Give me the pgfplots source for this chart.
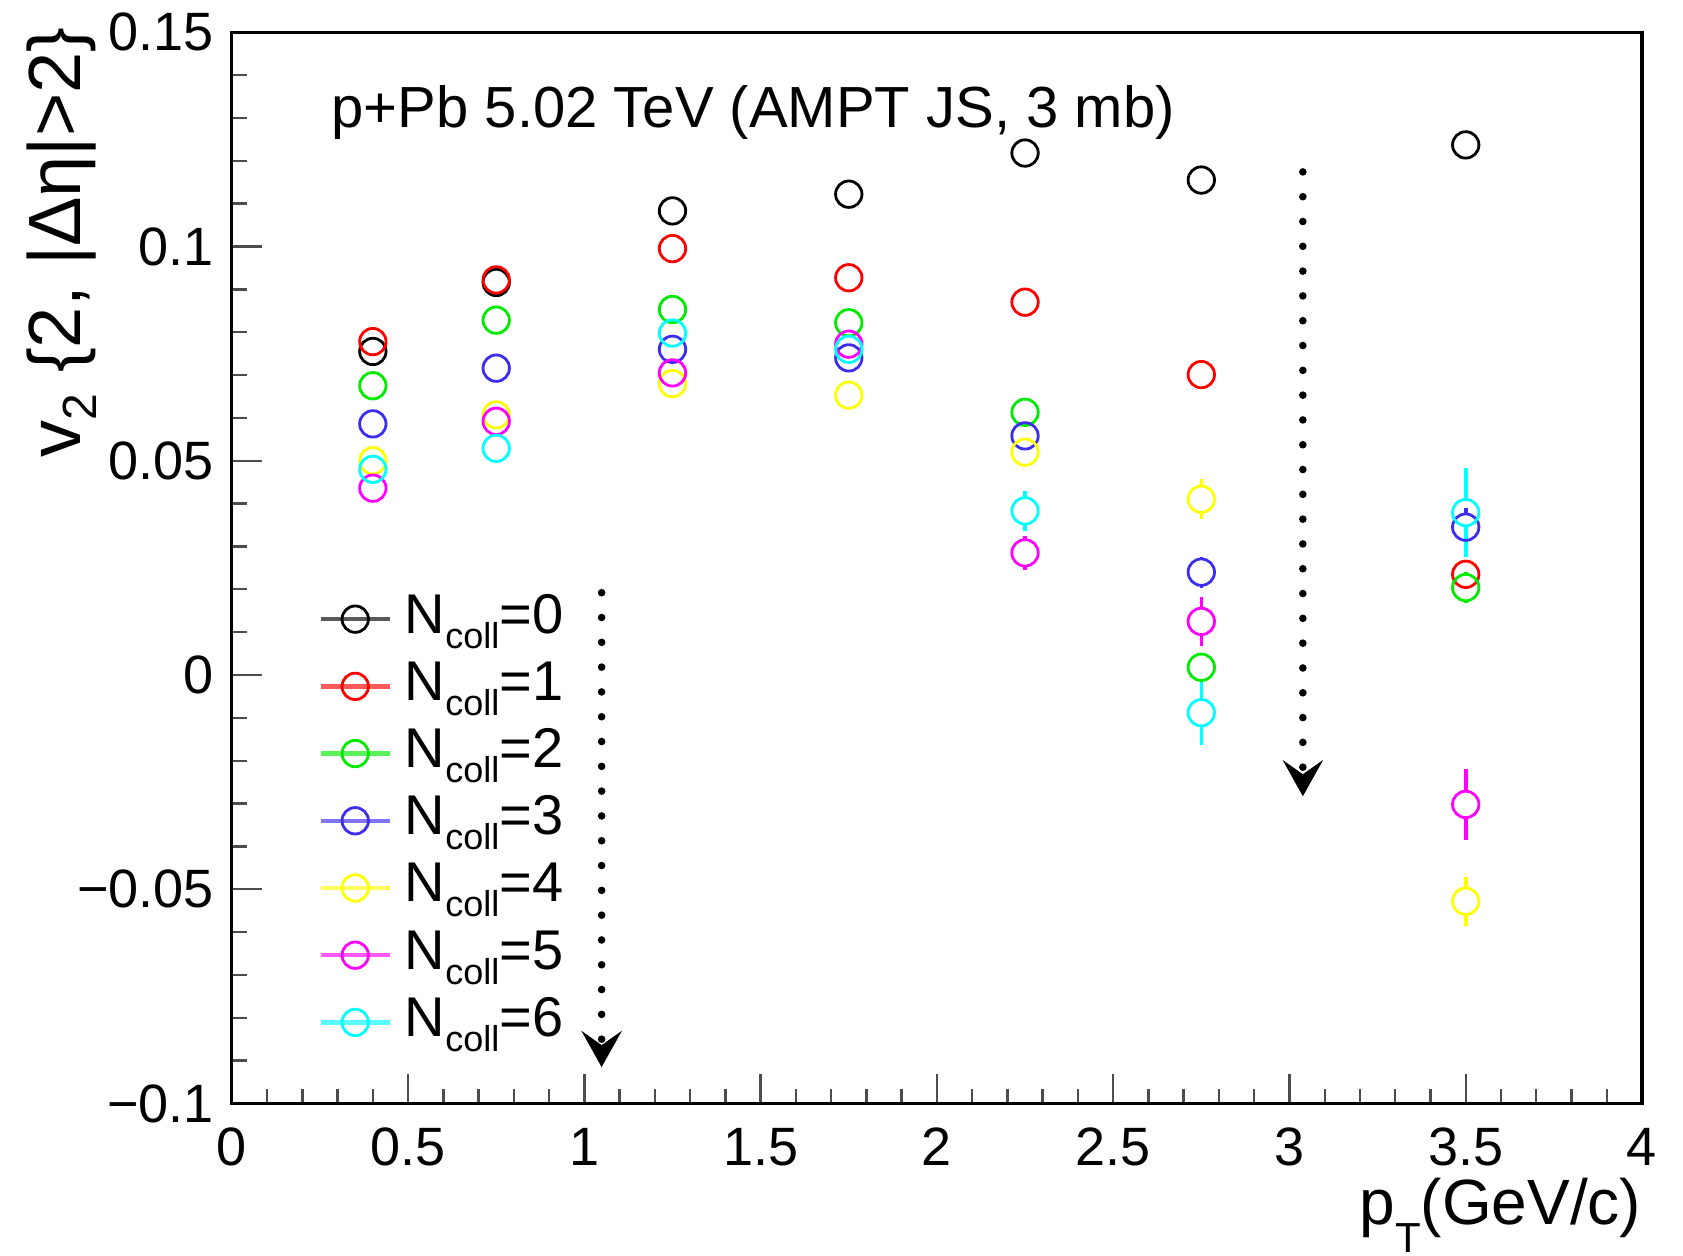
\documentclass[border=0pt]{standalone}
\usepackage{fontspec}
\setmainfont{Liberation Sans}
\usepackage{pgfplots}
\pgfplotsset{compat=1.18}
\usepackage{pgfplotstable}
\usetikzlibrary{arrows.meta}
\newcommand\sub[1]{\raisebox{-3.75bp}{\fontsize{9bp}{9bp}\selectfont #1}}
\definecolor{rblue}{RGB}{60,45,240}
\definecolor{rgreen}{RGB}{0,235,0}
\definecolor{ryellow}{RGB}{255,255,0}
\definecolor{rmag}{RGB}{255,0,255}
\definecolor{rcyan}{RGB}{0,255,255}

% x = pT, y = v2, e = statistical error (0 = hidden inside marker)
\pgfplotstableread{
x y e
0.40 0.0755 0
0.75 0.0916 0
1.25 0.1083 0
1.75 0.1122 0
2.25 0.1218 0
2.75 0.1155 0
3.50 0.1237 0
}\nzero
\pgfplotstableread{
x y e
0.40 0.0778 0
0.75 0.0922 0
1.25 0.0995 0
1.75 0.0927 0
2.25 0.0870 0
2.75 0.0701 0
3.50 0.0235 0
}\none
\pgfplotstableread{
x y e
0.40 0.0675 0
0.75 0.0828 0
1.25 0.0853 0
1.75 0.0822 0
2.25 0.0613 0
2.75 0.0018 0
3.50 0.0204 0.0036
}\ntwo
\pgfplotstableread{
x y e
0.40 0.0586 0
0.75 0.0716 0
1.25 0.0760 0
1.75 0.0740 0
2.25 0.0558 0
2.75 0.0240 0.0036
3.50 0.0345 0.0045
}\nthree
\pgfplotstableread{
x y e
0.40 0.0500 0
0.75 0.0607 0
1.25 0.0680 0
1.75 0.0653 0
2.25 0.0520 0
2.75 0.0410 0.0047
3.50 -0.0528 0.0057
}\nfour
\pgfplotstableread{
x y e
0.40 0.0436 0
0.75 0.0592 0
1.25 0.0705 0
1.75 0.0772 0
2.25 0.0285 0.0040
2.75 0.0125 0.0057
3.50 -0.0302 0.0083
}\nfive
\pgfplotstableread{
x y e
0.40 0.0480 0
0.75 0.0529 0
1.25 0.0798 0
1.75 0.0760 0
2.25 0.0383 0.0047
2.75 -0.0088 0.0075
3.50 0.0379 0.0103
}\nsix

\pgfplotsset{
  ser/.style={only marks, mark=o, mark size=3.3bp, color=#1,
    mark options={line width=0.7bp}},
  errs/.style={forget plot, draw=none, mark=none,
    error bars/y dir=both, error bars/y explicit,
    error bars/draw error bar/.code 2 args={\draw[draw=#1, line width=0.9bp, shorten <=3.3bp] ##1 -- ##2;}},
}

\begin{document}
\begin{tikzpicture}
\begin{axis}[
  at={(0,0)}, anchor=south west,
  scale only axis, width=352.5bp, height=267.8bp,
  xmin=0, xmax=4, ymin=-0.1, ymax=0.15,
  clip=false,
  axis line style={line width=0.8bp},
  xtick={0,0.5,1,1.5,2,2.5,3,3.5,4},
  xticklabels={0,0.5,1,1.5,2,2.5,3,3.5,4},
  ytick={-0.1,-0.05,0,0.05,0.1,0.15},
  yticklabels={−0.1,−0.05,0,0.05,0.1,0.15},
  minor x tick num=4, minor y tick num=4,
  tick align=inside, tick pos=left,
  major tick length=7.5bp, minor tick length=3.75bp,
  every tick/.style={black!70, line width=0.6bp},
  tick label style={font=\fontsize{13.5bp}{13.5bp}\selectfont},
  xticklabel style={inner sep=0pt, anchor=north, yshift=-5.9bp},
  yticklabel style={inner sep=0pt, anchor=east, xshift=-4.3bp},
  xlabel={p\raisebox{-7bp}{\fontsize{10.5bp}{10.5bp}\selectfont T}(GeV/c)},
  xlabel style={at={(axis description cs:1,-0.069)}, anchor=north east, inner sep=0pt,
    font=\fontsize{16bp}{16bp}\selectfont},
  ylabel={v\raisebox{-4bp}{\fontsize{12bp}{12bp}\selectfont 2} \{2, |Δη|>2\}},
  ylabel style={at={(axis description cs:-0.1206,1.005)}, rotate=0, anchor=east, inner sep=0pt,
    font=\fontsize{18.5bp}{18.5bp}\selectfont},
  legend image code/.code={
    \draw[#1, sharp plot, mark=none, line width=1.1bp, opacity=0.65] plot coordinates {(0bp,3.5bp) (17.35bp,3.5bp)};
    \draw[#1] plot coordinates {(8.675bp,3.5bp)};
  },
  legend style={draw=none, fill=none, at={(axis cs:0.2454,0.0191)}, anchor=north west,
    inner sep=0pt, outer sep=0pt, row sep=0pt, column sep=3.2bp,
    font=\fontsize{14bp}{14bp}\selectfont,
    nodes={inner sep=0pt, text height=10bp, text depth=6.8bp, anchor=base west}},
  legend cell align=left,
]
\addplot[ser=black] table[x=x, y=y] {\nzero};
\addlegendentry{N\sub{coll}=0}
\addplot[ser=red] table[x=x, y=y] {\none};
\addlegendentry{N\sub{coll}=1}
\addplot[ser=rgreen] table[x=x, y=y] {\ntwo};
\addlegendentry{N\sub{coll}=2}
\addplot[ser=rblue] table[x=x, y=y] {\nthree};
\addlegendentry{N\sub{coll}=3}
\addplot[ser=ryellow] table[x=x, y=y] {\nfour};
\addlegendentry{N\sub{coll}=4}
\addplot[ser=rmag] table[x=x, y=y] {\nfive};
\addlegendentry{N\sub{coll}=5}
\addplot[ser=rcyan] table[x=x, y=y] {\nsix};
\addlegendentry{N\sub{coll}=6}

% error bars (only points whose bars reach outside the marker)
\addplot[errs=rgreen, skip coords between index={0}{6}] table[x=x, y=y, y error=e] {\ntwo};
\addplot[errs=rblue, skip coords between index={0}{5}] table[x=x, y=y, y error=e] {\nthree};
\addplot[errs=ryellow, skip coords between index={0}{5}] table[x=x, y=y, y error=e] {\nfour};
\addplot[errs=rmag, skip coords between index={0}{4}] table[x=x, y=y, y error=e] {\nfive};
\addplot[errs=rcyan, skip coords between index={0}{4}] table[x=x, y=y, y error=e] {\nsix};

\node[anchor=base, inner sep=0pt, font=\fontsize{14.5bp}{14.5bp}\selectfont]
  at (axis cs:1.479,0.1278) {p+Pb 5.02 TeV (AMPT JS, 3 mb)};

\draw[line width=1.9bp, dash pattern=on 0bp off 6.2bp, line cap=round,
  -{Stealth[length=9bp,width=10bp,inset=3.5bp]}]
  (axis cs:3.038,0.1174) -- (axis cs:3.038,-0.0283);
\draw[line width=1.9bp, dash pattern=on 0bp off 6.2bp, line cap=round,
  -{Stealth[length=9bp,width=10bp,inset=3.5bp]}]
  (axis cs:1.049,0.0192) -- (axis cs:1.049,-0.0915);
\end{axis}
\pgfresetboundingbox
\useasboundingbox (-57.95bp,-37.9bp) rectangle (362.75bp,275.85bp);
\end{tikzpicture}
\end{document}
